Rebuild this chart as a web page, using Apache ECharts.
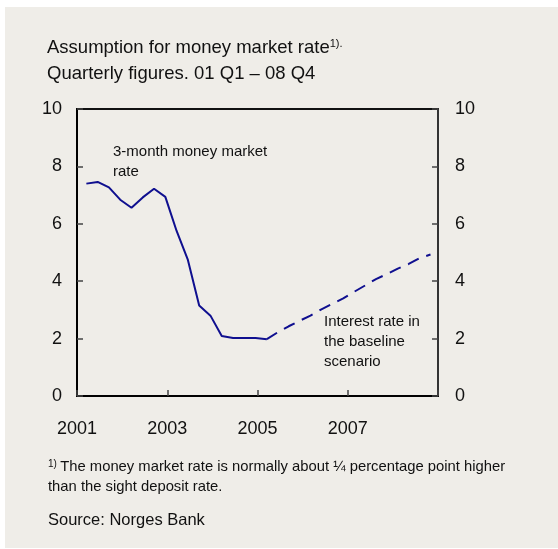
<!DOCTYPE html>
<html>
<head>
<meta charset="utf-8">
<script src="https://cdn.jsdelivr.net/npm/echarts@6/dist/echarts.min.js"></script>
<style>
  html, body { margin: 0; padding: 0; background: #ffffff; }
  #panel { position: absolute; left: 5px; top: 7px; width: 553px; height: 541px; background: #efede8; }
  #chart { position: absolute; left: 0; top: 0; width: 558px; height: 549px; }
</style>
</head>
<body>
<div id="panel"></div>
<div id="chart"></div>
<script>
// ---- Data ----
const yearTickLabels = ['2001', '2003', '2005', '2007'];
// 3-month money market rate, quarterly 01 Q1 - 05 Q1
const historyQuarters = ['01 Q1','01 Q2','01 Q3','01 Q4','02 Q1','02 Q2','02 Q3','02 Q4',
  '03 Q1','03 Q2','03 Q3','03 Q4','04 Q1','04 Q2','04 Q3','04 Q4','05 Q1'];
const historyValues = [7.40, 7.46, 7.27, 6.84, 6.56, 6.92, 7.22, 6.94,
  5.75, 4.74, 3.15, 2.80, 2.09, 2.02, 2.02, 2.02, 1.98];
// Interest rate in the baseline scenario, 05 Q1 - 08 Q4
const forecastQuarters = ['05 Q1','05 Q2','05 Q3','05 Q4','06 Q1','06 Q2','06 Q3','06 Q4',
  '07 Q1','07 Q2','07 Q3','07 Q4','08 Q1','08 Q2','08 Q3','08 Q4'];
const forecastValues = [1.98, 2.22, 2.43, 2.62, 2.80, 3.02, 3.21, 3.40,
  3.63, 3.85, 4.07, 4.25, 4.44, 4.60, 4.80, 4.93];
const yTickValues = [0, 2, 4, 6, 8, 10];

// ---- Build ----
const FONT = '"Liberation Sans", Arial, sans-serif';
const histData = historyValues.map((v, i) => [i + 0.83, v]);
const fcData = forecastValues.map((v, k) => [16.83 + k * 0.967, v]);

const chart = echarts.init(document.getElementById('chart'), null, { renderer: 'canvas' });
const axisCommonY = {
  type: 'value', min: 0, max: 10, interval: 2,
  axisLine: { show: true, lineStyle: { color: '#000', width: 2 } },
  axisTick: { show: true, inside: true, length: 6, lineStyle: { color: '#444', width: 1.5 } },
  splitLine: { show: false },
  axisLabel: { fontFamily: FONT, fontSize: 18, color: '#111' }
};
chart.setOption({
  backgroundColor: 'transparent',
  animation: false,
  grid: { left: 77, right: 120, top: 109, bottom: 153, show: true, borderColor: '#111', borderWidth: 2, backgroundColor: 'transparent' },
  xAxis: {
    type: 'value', min: 0, max: 32, interval: 8,
    axisLine: { show: true, lineStyle: { color: '#000', width: 2 } },
    axisTick: { show: true, inside: true, length: 6, lineStyle: { color: '#444', width: 1.5 } },
    splitLine: { show: false },
    axisLabel: {
      fontFamily: FONT, fontSize: 18, color: '#111', margin: 24,
      formatter: v => { const i = Math.round(v / 8); return i < yearTickLabels.length ? yearTickLabels[i] : ''; }
    }
  },
  yAxis: [
    Object.assign({}, axisCommonY, { position: 'left', axisLabel: Object.assign({}, axisCommonY.axisLabel, { margin: 15 }) }),
    Object.assign({}, axisCommonY, { position: 'right', axisLine: { show: true, lineStyle: { color: '#333', width: 2 } }, axisLabel: Object.assign({}, axisCommonY.axisLabel, { margin: 17 }) })
  ],
  series: [
    { type: 'line', name: '3-month money market rate', data: histData, showSymbol: false, yAxisIndex: 0,
      lineStyle: { color: '#0f0f8f', width: 2 } },
    { type: 'line', name: 'Interest rate in the baseline scenario', data: fcData, showSymbol: false, yAxisIndex: 0,
      lineStyle: { color: '#0f0f8f', width: 2, type: [12, 8] } }
  ],
  graphic: [
    { type: 'text', left: 47, top: 38, style: {
        text: '{a|Assumption for money market rate}{s|1).}',
        rich: { a: { fontFamily: FONT, fontSize: 18.5, fill: '#111' }, s: { fontFamily: FONT, fontSize: 11, fill: '#111', padding: [0, 0, 8, 0] } },
        fontFamily: FONT, fill: '#111' } },
    { type: 'text', left: 47, top: 64, style: { text: 'Quarterly figures. 01 Q1 – 08 Q4', fontFamily: FONT, fontSize: 18.5, fill: '#111' } },
    { type: 'text', left: 113, top: 142, style: { text: '3-month money market\nrate', fontFamily: FONT, fontSize: 15, lineHeight: 20, fill: '#111' } },
    { type: 'text', left: 324, top: 312, style: { text: 'Interest rate in\nthe baseline\nscenario', fontFamily: FONT, fontSize: 15, lineHeight: 20, fill: '#111' } },
    { type: 'text', left: 48, top: 459, style: {
        text: '{s|1)} {a|The money market rate is normally about ¼ percentage point higher}\n{a|than the sight deposit rate.}',
        rich: { a: { fontFamily: FONT, fontSize: 14.8, fill: '#111', lineHeight: 20 }, s: { fontFamily: FONT, fontSize: 10, fill: '#111', padding: [0, 0, 6, 0], lineHeight: 20 } },
        fontFamily: FONT, fill: '#111' } },
    { type: 'text', left: 48, top: 512, style: { text: 'Source: Norges Bank', fontFamily: FONT, fontSize: 16.5, fill: '#111' } }
  ]
});
</script>
</body>
</html>
